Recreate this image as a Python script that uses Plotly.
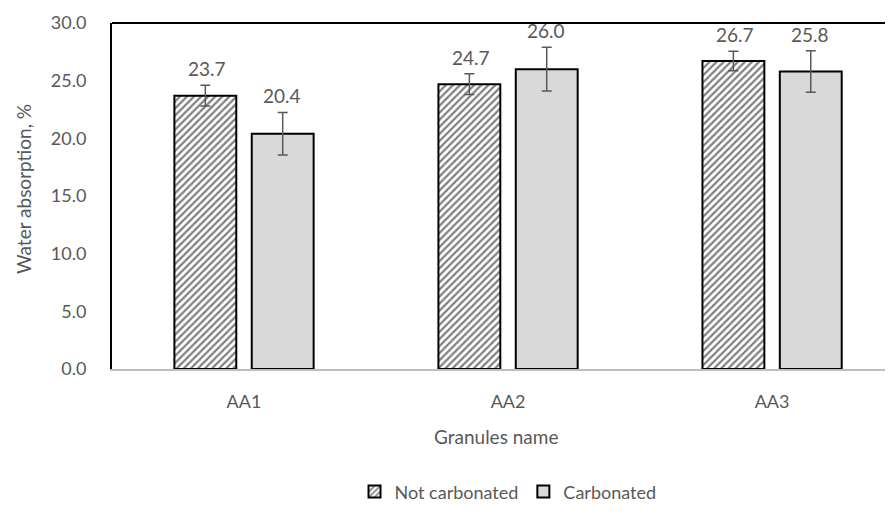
import plotly.graph_objects as go

categories = ["AA1", "AA2", "AA3"]
not_carbonated = [23.7, 24.7, 26.7]
not_carbonated_err = [0.9, 0.9, 0.85]
carbonated = [20.4, 26.0, 25.8]
carbonated_err = [1.85, 1.9, 1.8]
y_ticks = [0, 5, 10, 15, 20, 25, 30]

FONT = "Lato"
GRAY = "#595959"

fig = go.Figure()
fig.add_trace(go.Bar(
    x=categories, y=not_carbonated, name="Not carbonated",
    marker=dict(color="white", line=dict(color="black", width=2),
                pattern=dict(shape="/", fgcolor="black", bgcolor="white", size=5, solidity=0.45)),
    error_y=dict(type="data", array=not_carbonated_err, color=GRAY, thickness=1.5, width=5),
))
fig.add_trace(go.Bar(
    x=categories, y=carbonated, name="Carbonated",
    marker=dict(color="#d9d9d9", line=dict(color="black", width=2)),
    error_y=dict(type="data", array=carbonated_err, color=GRAY, thickness=1.5, width=5),
))

annotations = []
for vals, errs, shift in [(not_carbonated, not_carbonated_err, -37.5), (carbonated, carbonated_err, 37.5)]:
    for c, v, e in zip(categories, vals, errs):
        annotations.append(dict(x=c, y=v + e, xref="x", yref="y", text=f"{v:.1f}", showarrow=False,
                                xshift=shift, yshift=3, yanchor="bottom",
                                font=dict(family=FONT, size=19, color=GRAY)))
annotations.append(dict(x=0.4917, y=-0.1965, xref="paper", yref="paper", text="Granules name",
                        showarrow=False, xanchor="center", yanchor="middle",
                        font=dict(family=FONT, size=19, color=GRAY)))
annotations.append(dict(x=-0.114, y=0.52, xref="paper", yref="paper", text="Water absorption, %",
                        showarrow=False, xanchor="center", yanchor="middle", textangle=-90,
                        font=dict(family=FONT, size=19, color=GRAY)))

fig.update_layout(
    width=885, height=511,
    margin=dict(l=104, r=0, t=15, b=150, pad=0),
    plot_bgcolor="white", paper_bgcolor="white",
    barmode="group", bargap=0.414, bargroupgap=0.2,
    font=dict(family=FONT, size=18, color=GRAY),
    showlegend=True,
    legend=dict(orientation="h", xref="container", yref="container", x=0.565, y=0.053,
                xanchor="center", yanchor="middle", font=dict(family=FONT, size=18, color=GRAY),
                itemwidth=30, tracegroupgap=0),
    xaxis=dict(range=[-0.5, 2.458], showline=True, linecolor="#bfbfbf", linewidth=1.5,
               ticks="outside", ticklen=16, tickcolor="rgba(0,0,0,0)",
               tickfont=dict(family=FONT, size=18, color=GRAY), showgrid=False),
    yaxis=dict(range=[0, 30], tickvals=y_ticks, ticktext=[f"{t:.1f}" for t in y_ticks],
               showgrid=False, zeroline=False, showline=True, linecolor="black", linewidth=2,
               ticks="outside", ticklen=20, tickcolor="rgba(0,0,0,0)",
               tickfont=dict(family=FONT, size=18, color=GRAY)),
    annotations=annotations,
    shapes=[dict(type="line", xref="paper", yref="paper", x0=0, x1=1.01, y0=1, y1=1,
                 line=dict(color="black", width=2))],
)
fig.write_html("out.html")
